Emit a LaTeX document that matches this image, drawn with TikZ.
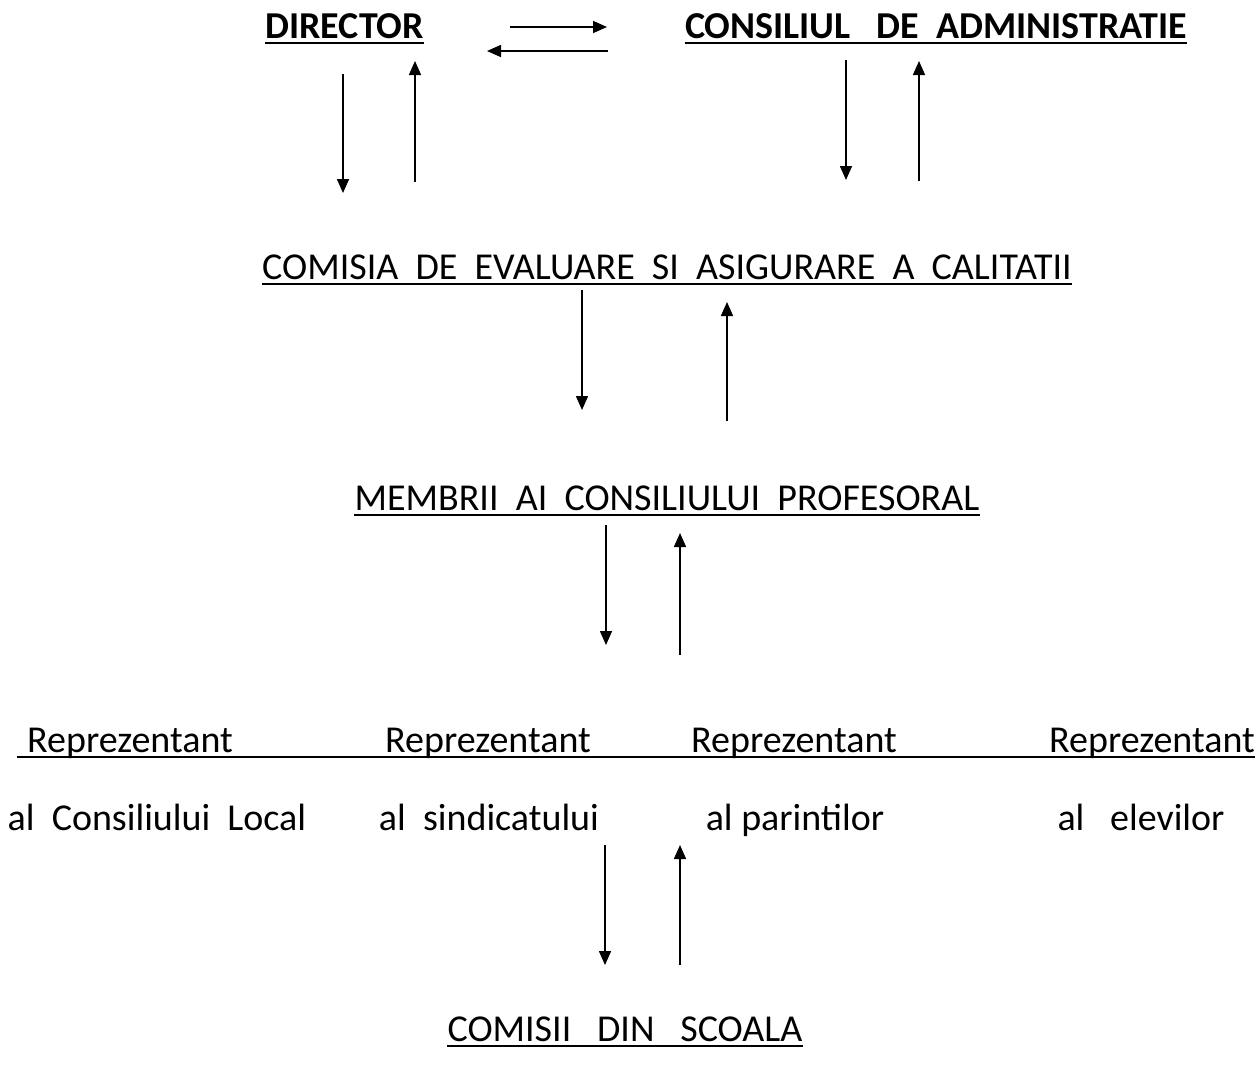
\documentclass[tikz,border=0pt]{standalone}
\usepackage{fontspec}
\setmainfont{Carlito}
\usetikzlibrary{positioning,calc,arrows.meta}

\begin{document}
\begin{tikzpicture}[x=0.5pt,y=-0.5pt,
    lbl/.style={anchor=base, inner sep=0pt, font=\fontsize{19}{23}\selectfont},
    hdr/.style={lbl, font=\fontsize{19}{23}\selectfont\bfseries},
    uline/.style={line width=1pt},
    arr/.style={line width=0.8pt, -{Triangle[length=7pt,width=6pt]}}]
    \useasboundingbox (0,0) rectangle (1260,1071);

    % top row
    \node (dir) [hdr, anchor=base west] at (265,38) {DIRECTOR\ };
    \node (ca) [hdr] at (936,38) {CONSILIUL~~~DE~~ADMINISTRATIE};

    % middle
    \node (ceac) [lbl] at (667,279) {COMISIA~~DE~~EVALUARE~~SI~~ASIGURARE~~A~~CALITATII};
    \node (mcp) [lbl] at (667,510) {MEMBRII~~AI~~CONSILIULUI~~PROFESORAL};

    % representatives
    \node (rep1) [lbl] at (130,752) {Reprezentant};
    \node (rep2) [lbl] at (488,752) {Reprezentant};
    \node (rep3) [lbl] at (794,752) {Reprezentant};
    \node (rep4) [lbl] at (1152,752) {Reprezentant};

    \node (cl) [lbl] at (157,830) {al~~Consiliului~~Local};
    \node (sind) [lbl] at (489,830) {al~~sindicatului};
    \node (par) [lbl] at (795,830) {al parintilor};
    \node (elev) [lbl] at (1141,830) {al~~~elevilor};

    \node (cs) [lbl] at (625,1041) {COMISII~~~DIN~~~SCOALA};

    % underlines
    \foreach \n in {dir,ca,ceac,mcp,cs}
        \draw[uline] ($(\n.base west)+(0,5)$) -- ($(\n.base east)+(0,5)$);
    \draw[uline] ($(rep1.base west)+(-10,5)$) -- ($(rep4.base east)+(0,5)$);

    % arrow ends
    \coordinate (h1a) at (510,27);  \coordinate (h1b) at (607,27);
    \coordinate (h2a) at (608,51);  \coordinate (h2b) at (487,51);
    \coordinate (d1a) at (343,74);  \coordinate (d1b) at (343,193);
    \coordinate (d2a) at (415,182); \coordinate (d2b) at (415,61);
    \coordinate (c1a) at (846,60);  \coordinate (c1b) at (846,180);
    \coordinate (c2a) at (919,181); \coordinate (c2b) at (919,61);
    \coordinate (e1a) at (582,290); \coordinate (e1b) at (582,410);
    \coordinate (e2a) at (727,421); \coordinate (e2b) at (727,302);
    \coordinate (m1a) at (606,525); \coordinate (m1b) at (606,645);
    \coordinate (m2a) at (680,655); \coordinate (m2b) at (680,533);
    \coordinate (r1a) at (605,845); \coordinate (r1b) at (605,965);
    \coordinate (r2a) at (680,965); \coordinate (r2b) at (680,845);

    \foreach \a in {h1,h2,d1,d2,c1,c2,e1,e2,m1,m2,r1,r2}
        \draw[arr] (\a a) -- (\a b);
\end{tikzpicture}
\end{document}
